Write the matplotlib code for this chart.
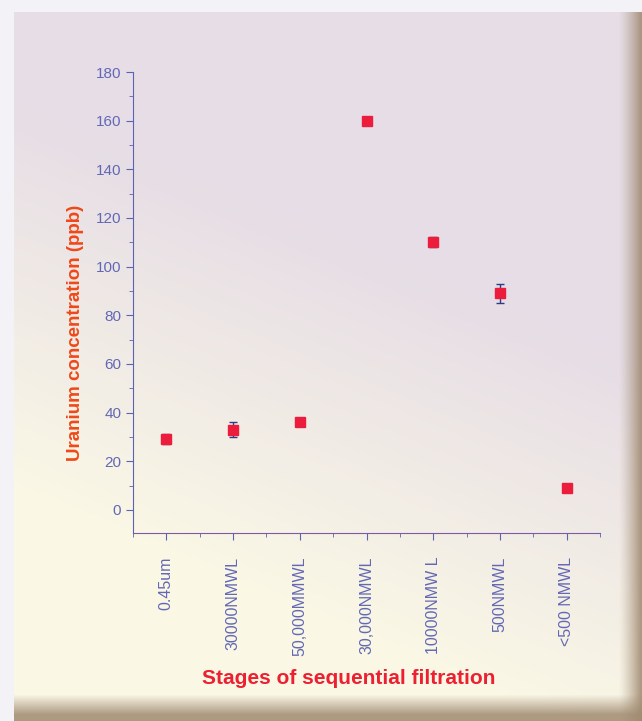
import numpy as np
import matplotlib.pyplot as plt
from matplotlib.ticker import MultipleLocator

# filtration stages and uranium readings (ppb)
stages = ['0.45um', '30000NMWL', '50,000MMWL', '30,000NMWL',
          '10000NMW L', '500NMWL', '<500 NMWL']
uranium = [29, 33, 36, 160, 110, 89, 9]
uranium_err = [2, 3, 1, 1, 2, 4, 1]

W, H = 642, 721
fig = plt.figure(figsize=(W / 100, H / 100), dpi=100)
font = ['Liberation Sans', 'DejaVu Sans']

# scanned page background: lavender fading to cream, brown bevel right/bottom
yy, xx = np.mgrid[0:H, 0:W].astype(float)
lav = np.array([230, 221, 230]) / 255
cream = np.array([250, 247, 229]) / 255
t = np.clip((yy - 230) / 380 + (320 - xx) / 900, 0, 1)[..., None]
page = lav * (1 - t) + cream * t
brown = np.array([160, 138, 112]) / 255
r = (np.clip((xx - 618) / 22, 0, 1) ** 1.3 * 0.85)[..., None]
page = page * (1 - r) + brown * r
b = (np.clip((yy - 694) / 20, 0, 1) * 0.85)[..., None]
page = page * (1 - b) + brown * b
edge = ((yy < 12) | (xx < 14))[..., None]
page = np.where(edge, np.array([243, 242, 246]) / 255, page)

bg = fig.add_axes([0, 0, 1, 1])
bg.imshow(page, aspect='auto', interpolation='bilinear')
bg.axis('off')

ax = fig.add_axes([133 / W, 1 - 533 / H, (600 - 133) / W, (533 - 72) / H])
ax.patch.set_alpha(0)
x = np.arange(1, len(stages) + 1)
ax.errorbar(x, uranium, yerr=uranium_err, fmt='none', ecolor='#2c3c84',
            elinewidth=1, capsize=3, capthick=1, zorder=2)
ax.plot(x, uranium, 's', color='#ec1c3c', markersize=7, zorder=3)

ax.set_xlim(0.5, 7.5)
ax.set_ylim(-9.5, 180)
ax.spines['top'].set_visible(False)
ax.spines['right'].set_visible(False)
ax.spines['left'].set_color('#5a62b4')
ax.spines['bottom'].set_color('#7c5aa4')

ax.set_xticks(x)
ax.set_xticklabels(stages, rotation=90, fontsize=11.5, color='#6268b4',
                   family=font)
ax.xaxis.set_minor_locator(MultipleLocator(1, offset=0.5))
ax.yaxis.set_major_locator(MultipleLocator(20))
ax.yaxis.set_minor_locator(MultipleLocator(10))
ax.tick_params(axis='both', which='both', direction='out', colors='#5a62b4',
               labelcolor='#6268b4')
ax.tick_params(axis='both', which='major', length=5)
ax.tick_params(axis='both', which='minor', length=3)
ax.tick_params(axis='x', which='major', pad=12)
for lab in ax.get_yticklabels():
    lab.set_fontsize(11)
    lab.set_family(font)

ax.set_ylabel('Uranium concentration (ppb)', fontsize=13.5, fontweight='bold',
              color='#f04818', family=font)
ax.yaxis.set_label_coords(-0.105, 0.434)
fig.text(349 / W, 1 - 678 / H, 'Stages of sequential filtration', ha='center',
         va='center', fontsize=15, fontweight='bold', color='#ec2030',
         family=font)

fig.savefig('out.png', dpi=100)
